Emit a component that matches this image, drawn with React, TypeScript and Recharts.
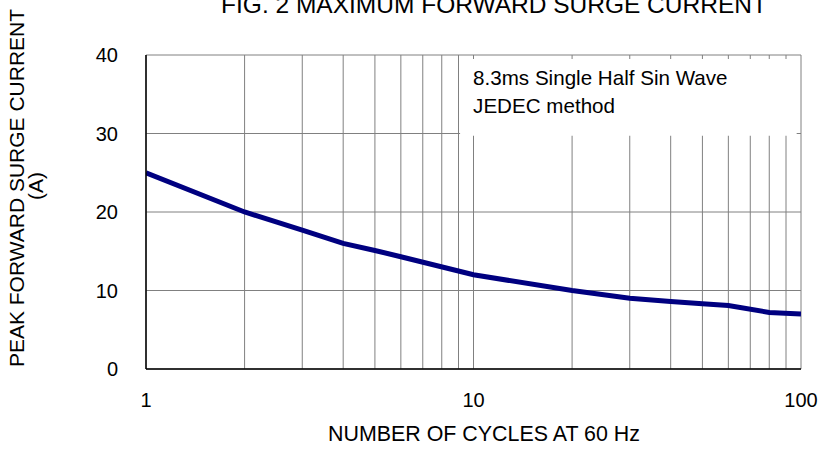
import React from 'react';
import { LineChart, Line, XAxis, YAxis, CartesianGrid, ReferenceArea, Customized } from 'recharts';

const cycles = [1, 2, 3, 4, 5, 6, 10, 20, 30, 40, 50, 60, 80, 100];
const surgeCurrent = [25, 20, 17.7, 16, 15.1, 14.3, 12, 10, 9, 8.6, 8.3, 8.1, 7.2, 7];
const xGridTicks = [1, 2, 3, 4, 5, 6, 7, 8, 9, 10, 20, 30, 40, 50, 60, 70, 80, 90, 100];
const xLabelTicks = [1, 10, 100];
const yTicks = [0, 10, 20, 30, 40];
const noteLines = ['8.3ms Single Half Sin Wave', 'JEDEC method'];

const data = cycles.map((c, i) => ({ cycles: c, current: surgeCurrent[i] }));

const FONT = '"Liberation Sans", Arial, sans-serif';

const Texts = () => (
    <g fontFamily={FONT} fill="#000">
        <text x={494} y={13} fontSize={24.5} textAnchor="middle">FIG. 2 MAXIMUM FORWARD SURGE CURRENT</text>
        <text x={484} y={441} fontSize={21.4} textAnchor="middle">NUMBER OF CYCLES AT 60 Hz</text>
        <text transform="translate(24,188) rotate(-90)" fontSize={21} textAnchor="middle">PEAK FORWARD SURGE CURRENT</text>
        <text transform="translate(43,186) rotate(-90)" fontSize={21} textAnchor="middle">(A)</text>
    </g>
);

const NoteLabel = (props: any) => {
    const vb = props.viewBox || { x: 0, y: 0 };
    return (
        <g fontFamily={FONT} fill="#000">
            {noteLines.map((t, i) => (
                <text key={t} x={vb.x + 13} y={vb.y + 26 + i * 28} fontSize={20.6}>{t}</text>
            ))}
        </g>
    );
};

export default function App() {
    return (
        <div style={{ position: 'absolute', left: 0, top: 0, width: 836, height: 452, background: '#fff' }}>
            <LineChart width={836} height={452} data={data} margin={{ top: 55, right: 35, left: 86, bottom: 23 }}>
                <CartesianGrid stroke="#808080" strokeWidth={1} />
                <XAxis
                    dataKey="cycles"
                    type="number"
                    scale="log"
                    domain={[1, 100]}
                    ticks={xGridTicks}
                    interval={0}
                    tickFormatter={(v: number) => (xLabelTicks.includes(v) ? String(v) : '')}
                    tickLine={false}
                    tickSize={0}
                    tickMargin={24}
                    height={60}
                    axisLine={{ stroke: '#000', strokeWidth: 1.5 }}
                    tick={{ fill: '#000', fontSize: 20, fontFamily: FONT }}
                    allowDataOverflow
                />
                <XAxis
                    xAxisId="top"
                    orientation="top"
                    type="number"
                    scale="log"
                    domain={[1, 100]}
                    tick={false}
                    tickLine={false}
                    height={0}
                    axisLine={{ stroke: '#000', strokeWidth: 1.5 }}
                />
                <YAxis
                    type="number"
                    domain={[0, 40]}
                    ticks={yTicks}
                    interval={0}
                    tickLine={false}
                    tickSize={0}
                    tickMargin={28}
                    width={60}
                    axisLine={{ stroke: '#000', strokeWidth: 1.5 }}
                    tick={{ fill: '#000', fontSize: 20, fontFamily: FONT }}
                />
                <YAxis
                    yAxisId="right"
                    orientation="right"
                    domain={[0, 40]}
                    tick={false}
                    tickLine={false}
                    width={0}
                    axisLine={{ stroke: '#000', strokeWidth: 1.5 }}
                />
                <ReferenceArea
                    x1={9.1}
                    x2={97}
                    y1={29.7}
                    y2={39.5}
                    fill="#fff"
                    fillOpacity={1}
                    stroke="none"
                    ifOverflow="hidden"
                    label={{ content: NoteLabel }}
                />
                <Line
                    type="linear"
                    dataKey="current"
                    stroke="#000080"
                    strokeWidth={5}
                    dot={false}
                    isAnimationActive={false}
                />
                <Customized component={Texts} />
            </LineChart>
        </div>
    );
}
